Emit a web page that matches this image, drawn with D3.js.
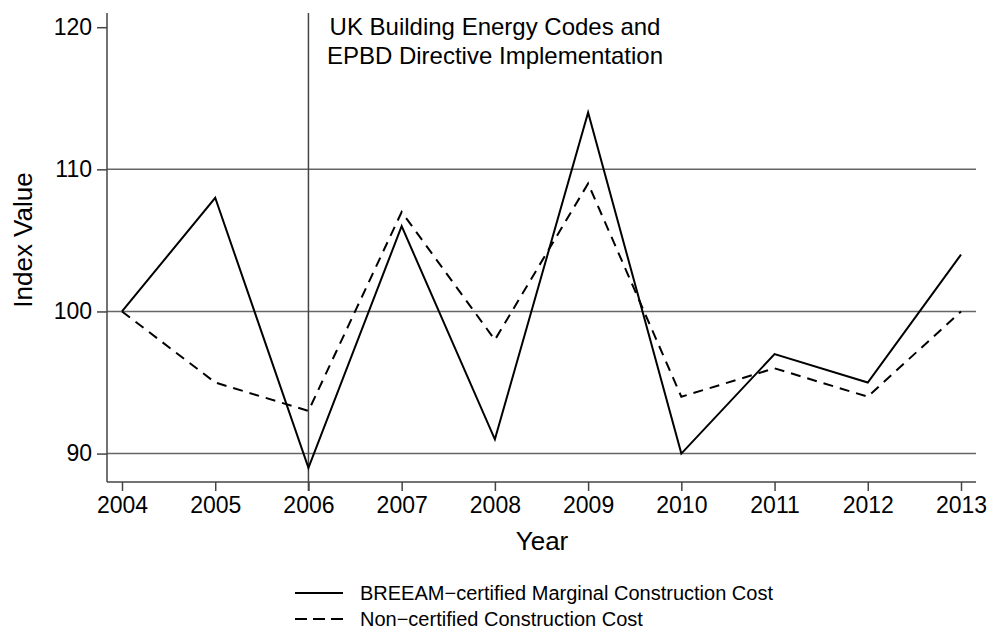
<!DOCTYPE html>
<html><head><meta charset="utf-8">
<script src="https://cdn.jsdelivr.net/npm/d3@7"></script>
<style>body{margin:0;background:#fff}svg{display:block}text{font-family:"Liberation Sans",Arial,Helvetica,sans-serif;fill:#000}</style>
</head><body><svg id="c" width="992" height="639"></svg>
<script>
const years = [2004,2005,2006,2007,2008,2009,2010,2011,2012,2013];
const breeam = [100,108,89,106,91,114,90,97,95,104];
const nonCert = [100,95,93,107,98,109,94,96,94,100];
const yTicks = [90,100,110,120];
const gridValues = [90,100,110];
const eventYear = 2006;
const annotation = ["UK Building Energy Codes and","EPBD Directive Implementation"];
const legendLabels = ["BREEAM\u2212certified Marginal Construction Cost","Non\u2212certified Construction Cost"];

const svg = d3.select("#c");
const L = 107, R = 976, T = 13, B = 482;
const x = d3.scaleLinear().domain([2004,2013]).range([122,961]);
const y = d3.scaleLinear().domain([88,121]).range([B,T]);
const axisCol = "#444";

// grid
svg.selectAll(".grid").data(gridValues).enter().append("line")
  .attr("x1",L).attr("x2",R).attr("y1",d=>y(d)).attr("y2",d=>y(d))
  .attr("stroke","#666").attr("stroke-width",1.5);

// vertical event line
svg.append("line").attr("x1",x(eventYear)).attr("x2",x(eventYear)).attr("y1",T).attr("y2",B+9)
  .attr("stroke",axisCol).attr("stroke-width",1.5);

// axes
const yAxis = svg.append("g").attr("transform",`translate(${L},0)`)
  .call(d3.axisLeft(y).tickValues(yTicks).tickSize(10).tickPadding(5).tickFormat(d3.format("d")));
const xAxis = svg.append("g").attr("transform",`translate(0,${B})`)
  .call(d3.axisBottom(x).tickValues(years).tickSize(9).tickPadding(6).tickFormat(d3.format("d")));
[yAxis,xAxis].forEach(g=>{
  g.select(".domain").remove();
  g.selectAll("line").attr("stroke",axisCol).attr("stroke-width",1.5);
  g.selectAll("text").attr("font-size",23).attr("fill","#000")
   .style("font-family",'"Liberation Sans",Arial,sans-serif');
});
svg.append("line").attr("x1",L).attr("x2",L).attr("y1",T).attr("y2",B).attr("stroke",axisCol).attr("stroke-width",1.5);
svg.append("line").attr("x1",L).attr("x2",R).attr("y1",B).attr("y2",B).attr("stroke",axisCol).attr("stroke-width",1.5);

// lines
const line = d3.line().x((d,i)=>x(years[i])).y(d=>y(d));
svg.append("path").attr("d",line(nonCert)).attr("fill","none").attr("stroke","#000")
  .attr("stroke-width",2).attr("stroke-dasharray","10,7");
svg.append("path").attr("d",line(breeam)).attr("fill","none").attr("stroke","#000")
  .attr("stroke-width",2);

// annotation
svg.append("g").selectAll("text").data(annotation).enter().append("text")
  .attr("x",495).attr("y",(d,i)=>35+i*29).attr("text-anchor","middle").attr("font-size",24).text(d=>d);

// axis titles
svg.append("text").attr("x",542).attr("y",550).attr("text-anchor","middle").attr("font-size",26).text("Year");
svg.append("text").attr("transform",`translate(32,240) rotate(-90)`).attr("text-anchor","middle").attr("font-size",26).text("Index Value");

// legend
const lg = svg.append("g");
legendLabels.forEach((t,i)=>{
  const yy = 593 + i*26;
  lg.append("line").attr("x1",295).attr("x2",343).attr("y1",yy).attr("y2",yy)
    .attr("stroke","#000").attr("stroke-width",2).attr("stroke-dasharray",i?"12,6":null);
  lg.append("text").attr("x",360).attr("y",yy+7).attr("font-size",20).text(t);
});
</script></body></html>
